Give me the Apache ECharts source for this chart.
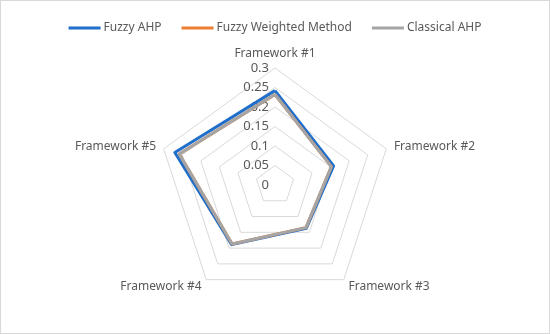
<!DOCTYPE html>
<html><head><meta charset="utf-8">
<script src="https://cdn.jsdelivr.net/npm/echarts@6/dist/echarts.min.js"></script>
<style>html,body{margin:0;padding:0;background:#fff}#c{width:548px;height:332px;border:1px solid #d9d9d9}</style>
</head><body><div id="c"></div>
<script>
const categories = ['Framework #1','Framework #2','Framework #3','Framework #4','Framework #5'];
const seriesNames = ['Fuzzy AHP','Fuzzy Weighted Method','Classical AHP'];
const fuzzyAHP = [0.242, 0.158, 0.137, 0.189, 0.270];
const fuzzyWeighted = [0.232, 0.152, 0.135, 0.187, 0.258];
const classicalAHP = [0.232, 0.152, 0.135, 0.187, 0.258];
const tickMax = 0.3;
const colors = ['#1f6fcb','#ed7d31','#a5a5a5'];
// ECharts radar runs counter-clockwise; reorder to draw clockwise like the reference
const order = [0,4,3,2,1];
const ro = arr => order.map(i=>arr[i]);
const chart = echarts.init(document.getElementById('c'));
const txt = '#595959';
chart.setOption({
  animation:false,
  color: colors,
  legend:{top:16,left:'center',itemWidth:32,itemHeight:3,itemGap:20,icon:'rect',
    textStyle:{color:txt,fontSize:12,fontFamily:'Noto Sans',padding:[0,0,0,-2]},data:seriesNames},
  radar:{
    center:[274,184], radius:117, startAngle:90, splitNumber:6, shape:'polygon',
    indicator: ro(categories).map((n,i)=>{
      const o={name:n,min:0,max:tickMax};
      if(i===0){o.axisLabel={show:true};}
      return o;
    }),
    axisName:{color:txt,fontSize:12,fontFamily:'Noto Sans'},
    nameGap:8,
    axisLine:{show:false},
    axisTick:{show:false},
    axisLabel:{show:false,color:txt,fontSize:13,fontFamily:'Noto Sans',margin:6,
      formatter:v=>String(+v.toFixed(2))},
    splitLine:{lineStyle:{color:'#d9d9d9',width:1}},
    splitArea:{show:false}
  },
  series:[{type:'radar',symbol:'none',data:[
    {name:seriesNames[0],value:ro(fuzzyAHP),lineStyle:{width:3,color:colors[0]}},
    {name:seriesNames[1],value:ro(fuzzyWeighted),lineStyle:{width:3,color:colors[1]}},
    {name:seriesNames[2],value:ro(classicalAHP),lineStyle:{width:3,color:colors[2]}}
  ]}]
});
</script></body></html>
